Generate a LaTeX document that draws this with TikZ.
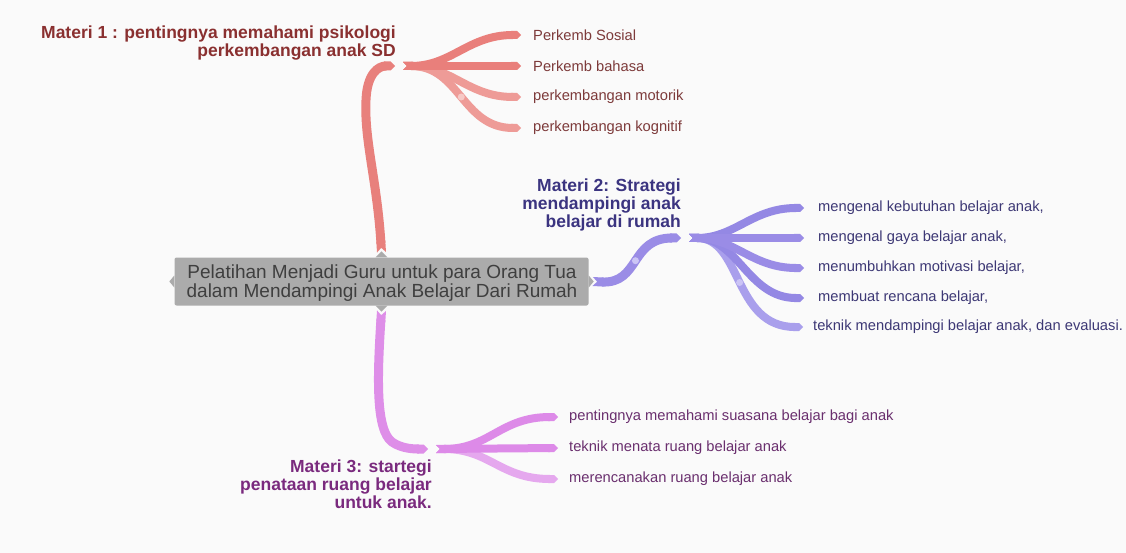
\documentclass[tikz,border=0pt]{standalone}
\usepackage{fontspec}
\setmainfont{Liberation Sans}
\usetikzlibrary{arrows.meta}
\definecolor{bgc}{HTML}{FAFAFA}
\definecolor{boxc}{HTML}{ABABAB}
\definecolor{rootc}{HTML}{3F3F3F}
\definecolor{redmain}{HTML}{E8807C}
\definecolor{redsub}{HTML}{E97F7B}
\definecolor{redlight}{HTML}{EE9B97}
\definecolor{redtitle}{HTML}{8A3030}
\definecolor{redleaf}{HTML}{7D3A3A}
\definecolor{redknob}{HTML}{F6C9C6}
\definecolor{purmain}{HTML}{9A8CE6}
\definecolor{pursub}{HTML}{9488E4}
\definecolor{purlight}{HTML}{A99FEC}
\definecolor{purtitle}{HTML}{3B3480}
\definecolor{purleaf}{HTML}{3D3875}
\definecolor{purknob}{HTML}{CBC4F5}
\definecolor{pinmain}{HTML}{DE8EE8}
\definecolor{pinsub}{HTML}{DD8AE8}
\definecolor{pinlight}{HTML}{E5A8EE}
\definecolor{pintitle}{HTML}{7A2A7E}
\definecolor{pinleaf}{HTML}{6A2F6E}
\begin{document}
\begin{tikzpicture}[x=1pt,y=-1pt,
  trunk/.style={line width=9pt,{Triangle Cap[reversed]}-{Triangle Cap}},
  twig/.style={line width=8pt,{Triangle Cap[reversed]}-{Triangle Cap}},
  rootbox/.style={fill=boxc,rounded corners=2pt,minimum width=414pt,minimum height=48pt,inner sep=0pt},
  roottext/.style={text=rootc,align=center,inner sep=0pt,font=\fontsize{19}{19}\selectfont},
  leaf/.style={anchor=west,inner sep=0pt,font=\fontsize{14.7}{16}\selectfont},
  title/.style={anchor=east,align=right,inner sep=0pt,font=\bfseries\fontsize{17.5}{18}\selectfont},
  knob/.style={circle,inner sep=0pt,minimum size=7pt}]
\fill[bgc] (0,0) rectangle (1126,553);
\useasboundingbox (0,0) rectangle (1126,553);

% root
\node[rootbox] (root) at (381.5,281.5) {};
\node[roottext] (roott) at (382,283) {Pelatihan Menjadi Guru untuk para Orang Tua\\dalam Mendampingi Anak Belajar Dari Rumah};
\fill[boxc] ([xshift=-6pt]root.north) -- ([yshift=6pt]root.north) -- ([xshift=6pt]root.north) -- cycle;
\fill[boxc] ([xshift=-6pt]root.south) -- ([yshift=-6pt]root.south) -- ([xshift=6pt]root.south) -- cycle;
\fill[boxc] ([yshift=6pt]root.west) -- ([xshift=-5pt]root.west) -- ([yshift=-6pt]root.west) -- cycle;
\fill[boxc] ([yshift=6pt]root.east) -- ([xshift=5pt]root.east) -- ([yshift=-6pt]root.east) -- cycle;

% junctions
\coordinate (r1) at (395,66);
\coordinate (r1o) at (403,66);
\coordinate (p1) at (681,238);
\coordinate (p1o) at (689,238);
\coordinate (k1) at (428,449);
\coordinate (k1o) at (436,449);

% titles
\node[title,text=redtitle] (m1) at (396,43) {Materi 1 : pentingnya memahami psikologi\\perkembangan anak SD};
\node[title,text=purtitle] (m2) at (681,205) {Materi 2: Strategi\\mendampingi anak\\belajar di rumah};
\node[title,text=pintitle] (m3) at (432,484) {Materi 3: startegi\\penataan ruang belajar\\untuk anak.};

% leaves
\node[leaf,text=redleaf] (r11) at (533,35) {Perkemb Sosial};
\node[leaf,text=redleaf] (r12) at (533,66) {Perkemb bahasa};
\node[leaf,text=redleaf] (r13) at (533,97) {perkembangan motorik};
\node[leaf,text=redleaf] (r14) at (533,128) {perkembangan kognitif};
\node[leaf,text=purleaf] (p11) at (818,208) {mengenal kebutuhan belajar anak,};
\node[leaf,text=purleaf] (p12) at (818,238) {mengenal gaya belajar anak,};
\node[leaf,text=purleaf] (p13) at (818,268) {menumbuhkan motivasi belajar,};
\node[leaf,text=purleaf] (p14) at (818,298) {membuat rencana belajar,};
\node[leaf,text=purleaf] (p15) at (813,327) {teknik mendampingi belajar anak, dan evaluasi.};
\node[leaf,text=pinleaf] (k11) at (569,417) {pentingnya memahami suasana belajar bagi anak};
\node[leaf,text=pinleaf] (k12) at (569,448) {teknik menata ruang belajar anak};
\node[leaf,text=pinleaf] (k13) at (569,479) {merencanakan ruang belajar anak};

% red branch
\draw[trunk,redmain] ([yshift=5pt]root.north) .. controls (377,180) and (364,140) .. (366,100) .. controls (367,74) and (378,66) .. (r1);
\draw[twig,redlight] (r1o) .. controls (460,66) and (462,128) .. ([xshift=-12pt]r14.west) node[knob,fill=redknob,pos=0.5] (rk) {};
\draw[twig,redlight] (r1o) .. controls (452,66) and (468,97) .. ([xshift=-12pt]r13.west);
\draw[twig,redsub] (r1o) .. controls (452,66) and (468,35) .. ([xshift=-12pt]r11.west);
\draw[twig,redsub] (r1o) -- ([xshift=-12pt]r12.west);

% purple branch
\draw[trunk,purmain] ([xshift=4pt]root.east) .. controls (640,284) and (630,238) .. (p1) node[knob,fill=purknob,pos=0.5] (pk1) {};
\draw[twig,purlight] (p1o) .. controls (742,238) and (733,327) .. ([xshift=-10pt]p15.west) node[knob,fill=purknob,pos=0.5] (pk2) {};
\draw[twig,pursub] (p1o) .. controls (738,238) and (748,298) .. ([xshift=-14pt]p14.west);
\draw[twig,purmain] (p1o) .. controls (735,238) and (752,268) .. ([xshift=-14pt]p13.west);
\draw[twig,pursub] (p1o) .. controls (735,238) and (752,208) .. ([xshift=-14pt]p11.west);
\draw[twig,purmain] (p1o) -- ([xshift=-14pt]p12.west);

% pink branch
\draw[trunk,pinmain] ([yshift=-5pt]root.south) .. controls (377,380) and (376,430) .. (392,442) .. controls (402,449) and (415,449) .. (k1);
\draw[twig,pinlight] (k1o) .. controls (490,449) and (500,479) .. ([xshift=-11pt]k13.west);
\draw[twig,pinsub] (k1o) .. controls (490,449) and (500,417) .. ([xshift=-11pt]k11.west);
\draw[twig,pinsub] (k1o) -- ([xshift=-11pt]k12.west);
\end{tikzpicture}
\end{document}
